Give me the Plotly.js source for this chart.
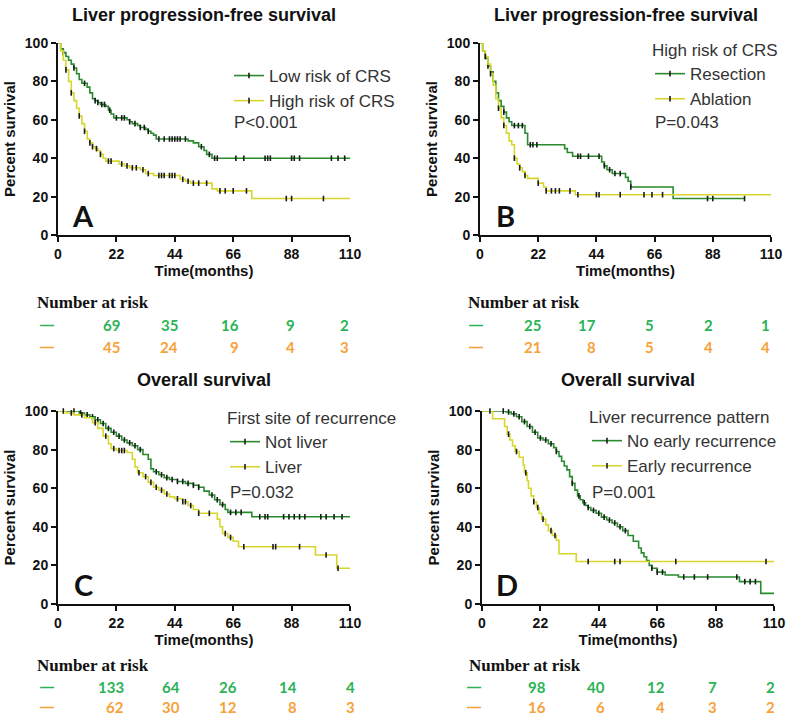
<!DOCTYPE html>
<html>
<head>
<meta charset="utf-8">
<script src="https://cdn.plot.ly/plotly-3.0.1.min.js"></script>
<style>
  html, body { margin: 0; padding: 0; background: #fff; }
  #chart { width: 792px; height: 717px; }
</style>
</head>
<body>
<div id="chart"></div>
<script>
// values (time in months, percent survival)
const timeTicks = [0, 22, 44, 66, 88, 110];
const survTicks = [0, 20, 40, 60, 80, 100];

// A - liver PFS, low vs high risk of CRS
const aLowT = [0,1,2,3,4,5,6,7,8,9,11,12,13,14,15,16,18,19,20,21,26,27,28,30,31,33,34,35,36,37,49,51,53,55,56,58,110];
const aLowS = [100,97,95,93,91,89,87,84,81,79,77,74,71,70,69,68,67,65,63,61,60,59,58,57,56,55,54,53,52,50,49,48,46,44,42,40,40];
const aLowCens = [2,6,10,14,15,16.5,17.5,19.5,22,24,25,27,29,31,32.5,34,38,40,42,43,44,45,46,48,54,57,59,60,67,70,78,79,80,88,89,91,103,105.5,108];
const aHighT = [0,1,2,3,4,5,6,7,8,9,10,11,12,13,14,15,16,17,18,23,25,27,31,33,36,46,48,50,58,60,73,110];
const aHighS = [100,96,91,86,80,74,70,66,62,58,54,50,48,46,45,44,42,40,38.5,37,36,35,34,32,31,29,28,27,24,23,19,19];
const aHighCens = [3,5,8,10,12,13,14.5,16,19,20,24,26,28,29.5,32,34,38,39,40,42,43,44,47,49,51,53,56,61,63,66,71,86,88,100];

// B - liver PFS in high risk, resection vs ablation
const bResT = [0,1,2,3,4,5,6,7,8,9,10,11,12,17,18,32,33,35,46,47,48,50,55,56,57,73,100];
const bResS = [100,96,92,88,85,80,74,70,67,64,61,59,57,53,47,45,43,41,38,36,34,32,30,28,25,19,19];
const bResCens = [3,9,13,14.5,16,19,20,21.5,37,38,41,45,47,49,51,53,57,86,88,100];
const bAblT = [0,1,2,3,4,5,6,7,8,9,10,11,12,13,14,15,16,17,18,22,24,25,36,110];
const bAblS = [100,96,93,89,84,78,71,66,61,57,53,49,47,40,37,35,33,31,29.5,27,25,23,21,21];
const bAblCens = [2,4,7,9,13,15,17,22,25,27,28.5,30,34,37,44,45,53,62,65,69];

// C - overall survival by first site of recurrence
const cNotT = [0,8,10,12,14,16,18,20,22,24,26,28,30,32,34,35,36,38,40,42,45,48,51,53,55,57,59,61,63,64,73,110];
const cNotS = [100,99,98,97,95.5,93.5,91,89,87,85,83.5,82,80,77.5,75,70,68.5,67,65.5,64.5,63.5,62.5,61.5,60.5,58.5,56.5,54,51.5,49,47.5,45.2,45.2];
const cNotCens = [6,8.5,11,13,15,17,19,21,23,25,27,29,31,37,39,41,43,45,47,49,51,53,58,60,62,65,67,69,76,78,79,85,87,89,91,93,99,101,104,107];
const cLivT = [0,3,6,10,13,15,17,19,20,22,26,28,29,30,32,34,36,38,40,42,44,47,49,51,53,60,61,62,64,66,68,97,105,110];
const cLivS = [100,99,98,96.5,94,91,87,83,80.5,79.5,78.5,75,71,68,66,63,60.5,59,57,55.5,54.5,53,51,49,47,44,40,36.5,34.5,32.5,29.7,25.4,18.5,18.5];
const cLivCens = [2,5,9,14,18,21,23,24,25,30.5,33,35,37,39,41,45,47,48,50,53,57,63,65,70,81,82,91,101,105.5];

// D - overall survival by liver recurrence pattern
const dNoT = [0,9,11,13,15,17,19,21,23,25,27,28,29,30,31,32,33,34,35,36,37,38,39,40,41,43,45,47,49,51,53,55,57,59,60,61,62,63,64,66,69,74,97,105,110];
const dNoS = [100,99.5,98.5,97,94.5,92,89,86,85,83,81,79,76.5,74,71.5,69.5,66,62.5,59,56,54,52.5,51,50,48.5,47,45,43.5,42,40,38,35.5,32.5,29,26.5,24.5,22.5,20,18.5,16.5,15,14,11.6,5.5,5.5];
const dNoCens = [8,10,12,14,16,18,20,22,24,26,28,34,36.5,38.5,40,42,44,46,48,50,52,54,64,66,68,76,80,85,96,99,101,103];
const dEarlyT = [0,4,8.5,9.5,10.5,11.5,12.5,14,15.5,16,17,17.5,18.5,19.5,20.5,21.5,22.5,24,25,26.5,28,29,35.5,110];
const dEarlyS = [100,96,92,88,85,82,79,76,72,68,64,60,56,53,50,47,44,41,38,35.5,33,26,22,22];
const dEarlyCens = [3,10,13,16.5,19.5,21,23,26,27.5,40,50,52,73,107];

// number at risk
const riskA = [[69,35,16,9,2],[45,24,9,4,3]];
const riskB = [[25,17,5,2,1],[21,8,5,4,4]];
const riskC = [[133,64,26,14,4],[62,30,12,8,3]];
const riskD = [[98,40,12,7,2],[16,6,4,3,2]];

const W = 792, H = 717;
const px = x => x / W;
const py = y => 1 - y / H;
const SANS = 'Arial, "Liberation Sans", sans-serif';
const GREEN = '#2a8a2e', YELLOW = '#d8d62c';
const RISK_GREEN = '#2bb356', RISK_ORANGE = '#f6a23a';

// survival value on the step curve at time t
function survAt(t, ts, ss) {
  let v = ss[0];
  for (let i = 0; i < ts.length; i++) { if (ts[i] <= t) v = ss[i]; }
  return v;
}

const panels = [
  {id: '', x: [58, 350], y: [43, 235], title: 'Liver progression-free survival', titleY: 15, letter: 'A',
   legendTitle: '', names: ['Low risk of CRS', 'High risk of CRS'], p: 'P<0.001',
   curves: [[aLowT, aLowS, aLowCens], [aHighT, aHighS, aHighCens]],
   leg: [229, 58], pPos: [232, 122], risk: riskA, riskX: [122,180,241,297,351], dashX: 47, narX: 35, riskY: [303, 325, 347]},
  {id: '2', x: [480, 771], y: [43, 235], title: 'Liver progression-free survival', titleY: 15, letter: 'B',
   legendTitle: 'High risk of CRS', names: ['Resection', 'Ablation'], p: 'P=0.043',
   curves: [[bResT, bResS, bResCens], [bAblT, bAblS, bAblCens]],
   leg: [650, 34], pPos: [653, 122], risk: riskB, riskX: [543,598,656,715,772], dashX: 476, narX: 466, riskY: [303, 325, 347]},
  {id: '3', x: [58, 350], y: [411, 604], title: 'Overall survival', titleY: 380, letter: 'C',
   legendTitle: 'First site of recurrence', names: ['Not liver', 'Liver'], p: 'P=0.032',
   curves: [[cNotT, cNotS, cNotCens], [cLivT, cLivS, cLivCens]],
   leg: [225, 402], pPos: [228, 492], risk: riskC, riskX: [126,182,239,299,357], dashX: 47, narX: 35, riskY: [665, 687, 707]},
  {id: '4', x: [482, 774], y: [411, 604], title: 'Overall survival', titleY: 380, letter: 'D',
   legendTitle: 'Liver recurrence pattern', names: ['No early recurrence', 'Early recurrence'], p: 'P=0.001',
   curves: [[dNoT, dNoS, dNoCens], [dEarlyT, dEarlyS, dEarlyCens]],
   leg: [587, 401], pPos: [590, 492], risk: riskD, riskX: [548,607,667,719,777], dashX: 474, narX: 467, riskY: [665, 687, 707]}
];

const traces = [];
const layout = {
  width: W, height: H,
  margin: {l: 0, r: 0, t: 0, b: 0},
  paper_bgcolor: '#fff', plot_bgcolor: 'rgba(0,0,0,0)',
  showlegend: true,
  annotations: []
};

const tickFont = {family: SANS, size: 14, color: '#111', weight: 'bold'};
const axTitleFont = {family: SANS, size: 15, color: '#111', weight: 'bold'};
const censMarker = {symbol: 'line-ns', size: 4, line: {width: 1.6, color: '#1a1a1a'}};

panels.forEach(pn => {
  const xa = 'x' + pn.id, ya = 'y' + pn.id;
  const legId = 'legend' + pn.id;
  layout['xaxis' + pn.id] = {
    domain: [px(pn.x[0]), px(pn.x[1])], anchor: ya, range: [0, 110],
    tickvals: timeTicks, ticks: 'outside', ticklen: 5, tickwidth: 2, tickcolor: '#111',
    showline: true, linecolor: '#111', linewidth: 2, showgrid: false, zeroline: false,
    tickfont: tickFont, title: {text: 'Time(months)', font: axTitleFont, standoff: 3}, fixedrange: true
  };
  layout['yaxis' + pn.id] = {
    domain: [py(pn.y[1]), py(pn.y[0])], anchor: xa, range: [0, 100],
    tickvals: survTicks, ticks: 'outside', ticklen: 5, tickwidth: 2, tickcolor: '#111',
    showline: true, linecolor: '#111', linewidth: 2, showgrid: false, zeroline: false,
    tickfont: tickFont, title: {text: 'Percent survival', font: axTitleFont, standoff: 6}, fixedrange: true
  };
  layout[legId] = {
    x: px(pn.leg[0]), y: py(pn.leg[1]), xanchor: 'left', yanchor: 'top',
    bgcolor: 'rgba(0,0,0,0)', font: {family: SANS, size: 17, color: '#333'},
    title: {text: pn.legendTitle, font: {family: SANS, size: 17, color: '#333'}},
    tracegroupgap: 0, itemclick: false, itemdoubleclick: false
  };

  pn.curves.forEach((c, k) => {
    const color = k === 0 ? GREEN : YELLOW;
    traces.push({
      type: 'scatter', mode: 'lines', x: c[0], y: c[1], xaxis: xa, yaxis: ya,
      line: {shape: 'hv', color: color, width: 1.6}, showlegend: false, cliponaxis: false, hoverinfo: 'skip'
    });
    traces.push({
      type: 'scatter', mode: 'markers', x: c[2], y: c[2].map(t => survAt(t, c[0], c[1])), xaxis: xa, yaxis: ya,
      marker: censMarker, showlegend: false, cliponaxis: false, hoverinfo: 'skip'
    });
    // legend entry (line with censor tick)
    traces.push({
      type: 'scatter', mode: 'lines+markers', x: [null], y: [null], xaxis: xa, yaxis: ya,
      name: pn.names[k], legend: legId,
      line: {color: color, width: 1.6}, marker: censMarker
    });
  });

  const ann = layout.annotations;
  ann.push({xref: 'paper', yref: 'paper', x: px((pn.x[0] + pn.x[1]) / 2), y: py(pn.titleY),
    xanchor: 'center', yanchor: 'middle', showarrow: false, text: '<b>' + pn.title + '</b>',
    font: {family: SANS, size: 18, color: '#111'}});
  ann.push({xref: 'paper', yref: 'paper', x: px(pn.pPos[0]), y: py(pn.pPos[1]),
    xanchor: 'left', yanchor: 'middle', showarrow: false, text: pn.p,
    font: {family: SANS, size: 17, color: '#333'}});
  ann.push({xref: 'paper', yref: 'paper', x: px(pn.x[0] + 25), y: py(pn.y[1] - 20),
    xanchor: 'center', yanchor: 'middle', showarrow: false, text: '<b>' + pn.letter + '</b>',
    font: {family: 'Lato, "Open Sans", sans-serif', size: 29, color: '#111'}});
  // number at risk table
  ann.push({xref: 'paper', yref: 'paper', x: px(pn.narX), y: py(pn.riskY[0]),
    xanchor: 'left', yanchor: 'middle', showarrow: false, text: '<b>Number at risk</b>',
    font: {family: '"Liberation Serif", "Times New Roman", serif', size: 17, color: '#111'}});
  pn.risk.forEach((row, r) => {
    const col = r === 0 ? RISK_GREEN : RISK_ORANGE;
    const yy = py(pn.riskY[r + 1]);
    ann.push({xref: 'paper', yref: 'paper', x: px(pn.dashX), y: yy, xanchor: 'center', yanchor: 'middle',
      showarrow: false, text: '<b>\u2014</b>', font: {family: SANS, size: 14, color: col}});
    row.forEach((v, i) => {
      ann.push({xref: 'paper', yref: 'paper', x: px(pn.riskX[i]), y: yy, xanchor: 'right', yanchor: 'middle',
        showarrow: false, text: '<b>' + v + '</b>', font: {family: 'Lato, sans-serif', size: 15, color: col}});
    });
  });
});

Plotly.newPlot('chart', traces, layout, {displayModeBar: false, staticPlot: true});
</script>
</body>
</html>
